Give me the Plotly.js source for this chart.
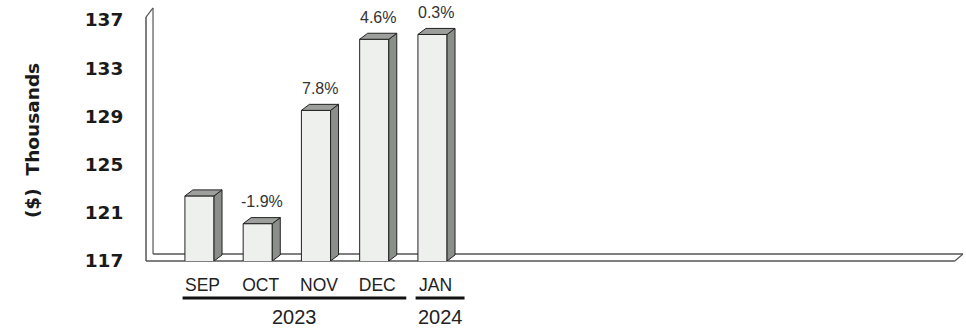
<!DOCTYPE html>
<html>
<head>
<meta charset="utf-8">
<script src="https://cdn.plot.ly/plotly-3.0.1.min.js"></script>
<style>html,body{margin:0;padding:0;background:#fff;}#chart{width:966px;height:329px;}</style>
</head>
<body>
<div id="chart"></div>
<script>
// ---- data ----
const months = ['SEP', 'OCT', 'NOV', 'DEC', 'JAN'];
const values = [122.4, 120.1, 129.5, 135.4, 135.8];   // $ thousands
const pctLabels = ['', '-1.9%', '7.8%', '4.6%', '0.3%'];
const years = ['2023', '2024'];
const yearFirst = [0, 4];
const yearLast = [3, 4];
const yTicks = [117, 121, 125, 129, 133, 137];

// ---- geometry (3D look) ----
const yMin = 117, yMax = 137;
const barW = 0.5;
const ddx = 0.137;   // depth offset in x units
const ddy = 0.5;     // depth offset in y units
const xIdx = months.map((m, i) => i);

const sideX = [], sideY = [], topX = [], topY = [];
xIdx.forEach((x, i) => {
  const v = values[i];
  const r = x + barW / 2, l = x - barW / 2;
  sideX.push(r, r, r + ddx, r + ddx, r, null);
  sideY.push(yMin, v, v + ddy, yMin + ddy, yMin, null);
  topX.push(l, r, r + ddx, l + ddx, l, null);
  topY.push(v, v, v + ddy, v + ddy, v, null);
});

const traces = [
  {type: 'bar', x: xIdx, y: values, width: barW,
   marker: {color: '#eef0ee', line: {color: '#222', width: 1}}, hoverinfo: 'skip'},
  {type: 'scatter', mode: 'lines', x: sideX, y: sideY, fill: 'toself',
   fillcolor: '#8a8f8a', line: {color: '#222', width: 1}, hoverinfo: 'skip'},
  {type: 'scatter', mode: 'lines', x: topX, y: topY, fill: 'toself',
   fillcolor: '#9c9f9c', line: {color: '#222', width: 1}, hoverinfo: 'skip'}
];

const frameColor = '#555';
const shapes = [
  {type: 'line', xref: 'paper', yref: 'paper', x0: 0, y0: 0, x1: 0.990, y1: 0, layer: 'below', line: {color: frameColor, width: 1.5}},
  {type: 'line', xref: 'paper', yref: 'paper', x0: 0.0086, y0: 0.029, x1: 1.0, y1: 0.029, layer: 'below', line: {color: frameColor, width: 1.5}},
  {type: 'line', xref: 'paper', yref: 'paper', x0: 0.990, y0: 0, x1: 1.0, y1: 0.029, layer: 'below', line: {color: frameColor, width: 1.2}},
  {type: 'line', xref: 'paper', yref: 'paper', x0: 0, y0: 0, x1: 0, y1: 1.012, layer: 'below', line: {color: frameColor, width: 1.5}},
  {type: 'line', xref: 'paper', yref: 'paper', x0: 0.0086, y0: 0.029, x1: 0.0086, y1: 1.05, layer: 'below', line: {color: frameColor, width: 1.2}},
  {type: 'line', xref: 'paper', yref: 'paper', x0: 0, y0: 1.012, x1: 0.0086, y1: 1.05, layer: 'below', line: {color: frameColor, width: 1.2}}
];

const annotations = [];
years.forEach((yr, k) => {
  const s = yearFirst[k] - 0.29, e = yearLast[k] + 0.55;
  shapes.push({type: 'line', xref: 'x', yref: 'paper', x0: s, x1: e, y0: -0.1535, y1: -0.1535,
               line: {color: '#111', width: 3}});
  annotations.push({xref: 'x', yref: 'paper', x: (s + e) / 2, y: -0.232, text: yr, showarrow: false,
                    xanchor: 'center', yanchor: 'middle',
                    font: {family: 'Liberation Sans, Arial, sans-serif', size: 20, color: '#222'}});
});
xIdx.forEach((x, i) => {
  if (!pctLabels[i]) return;
  annotations.push({xref: 'x', yref: 'y', x: x + ddx / 2, y: values[i] + ddy, yshift: 16,
                    text: pctLabels[i], showarrow: false, xanchor: 'center', yanchor: 'middle',
                    font: {family: 'Liberation Sans, Arial, sans-serif', size: 16, color: '#333'}});
});

const layout = {
  width: 966, height: 329,
  margin: {l: 146, r: 3, t: 20, b: 68},
  paper_bgcolor: '#fff', plot_bgcolor: 'rgba(0,0,0,0)',
  showlegend: false,
  bargap: 0,
  xaxis: {
    range: [-0.918, 13.107], showgrid: false, zeroline: false, showline: false,
    tickmode: 'array', tickvals: xIdx, ticktext: months,
    ticks: 'outside', ticklen: 8, tickcolor: 'rgba(0,0,0,0)', ticklabelshift: 3,
    tickfont: {family: 'Liberation Sans, Arial, sans-serif', size: 17.5, color: '#222'},
    fixedrange: true
  },
  yaxis: {
    range: [yMin, yMax], showgrid: false, zeroline: false, showline: false,
    tickmode: 'array', tickvals: yTicks, ticktext: yTicks.map(String),
    ticks: 'outside', ticklen: 18, tickcolor: 'rgba(0,0,0,0)',
    tickfont: {family: 'DejaVu Sans, sans-serif', size: 18.5, color: '#1a1a1a', weight: 'bold'},
    title: {text: '($)  Thousands', standoff: 40,
            font: {family: 'DejaVu Sans, sans-serif', size: 18.5, color: '#1a1a1a', weight: 'bold'}},
    fixedrange: true
  },
  shapes: shapes,
  annotations: annotations
};

Plotly.newPlot('chart', traces, layout, {displayModeBar: false, staticPlot: true});
</script>
</body>
</html>
